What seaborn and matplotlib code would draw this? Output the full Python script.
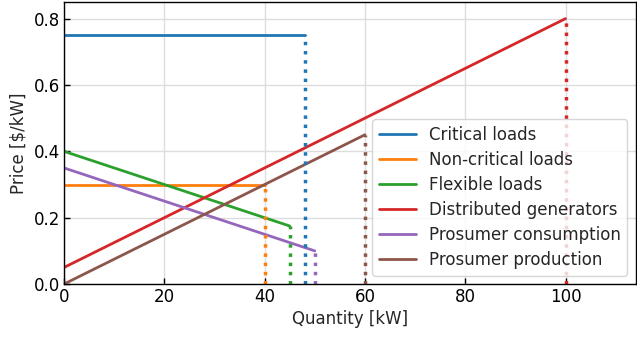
import pandas as pd
import matplotlib
matplotlib.use("Agg")
import matplotlib.pyplot as plt
import seaborn as sns

# series: price at q=0, max quantity, price at max quantity
names = ["Critical loads", "Non-critical loads", "Flexible loads",
         "Distributed generators", "Prosumer consumption", "Prosumer production"]
q_max = [48, 40, 45, 100, 50, 60]
p_start = [0.75, 0.30, 0.40, 0.05, 0.35, 0.00]
p_end = [0.75, 0.30, 0.175, 0.80, 0.10, 0.45]

colors = sns.color_palette("tab10", len(names))

rows = []
for n, q, p0, p1 in zip(names, q_max, p_start, p_end):
    rows.append({"Agent": n, "Quantity": 0, "Price": p0})
    rows.append({"Agent": n, "Quantity": q, "Price": p1})
df = pd.DataFrame(rows)

sns.set_theme(style="whitegrid")
plt.rcParams["font.family"] = ["DejaVu Sans"]

fig, ax = plt.subplots(figsize=(6.37, 3.41), dpi=100)
fig.subplots_adjust(left=0.1005, right=0.998, bottom=0.167, top=0.994)

sns.lineplot(data=df, x="Quantity", y="Price", hue="Agent", palette=colors,
             linewidth=2, ax=ax, estimator=None, sort=False)

# dotted drop lines at each agent's maximum quantity
for c, q, p1 in zip(colors, q_max, p_end):
    ax.vlines(q, 0, p1, colors=[c], linestyles=":", linewidth=2.5)

ax.set_xlim(0, 114)
ax.set_ylim(0, 0.85)
ax.set_xticks([0, 20, 40, 60, 80, 100])
ax.set_yticks([0.0, 0.2, 0.4, 0.6, 0.8])
ax.set_xlabel("Quantity [kW]", fontsize=12, labelpad=3)
ax.set_ylabel("Price [$/kW]", fontsize=12, labelpad=4)
ax.tick_params(direction="in", length=4, width=1, labelsize=12, colors="black",
               left=True, bottom=True, pad=3)
for s in ax.spines.values():
    s.set_color("black")
    s.set_linewidth(1)
ax.grid(color="#dddddd", linewidth=1)

ax.legend(loc="lower right", fontsize=12, framealpha=0.8, title=None,
          handlelength=2.2, borderpad=0.4, labelspacing=0.42)

fig.savefig("out.png", dpi=100)
